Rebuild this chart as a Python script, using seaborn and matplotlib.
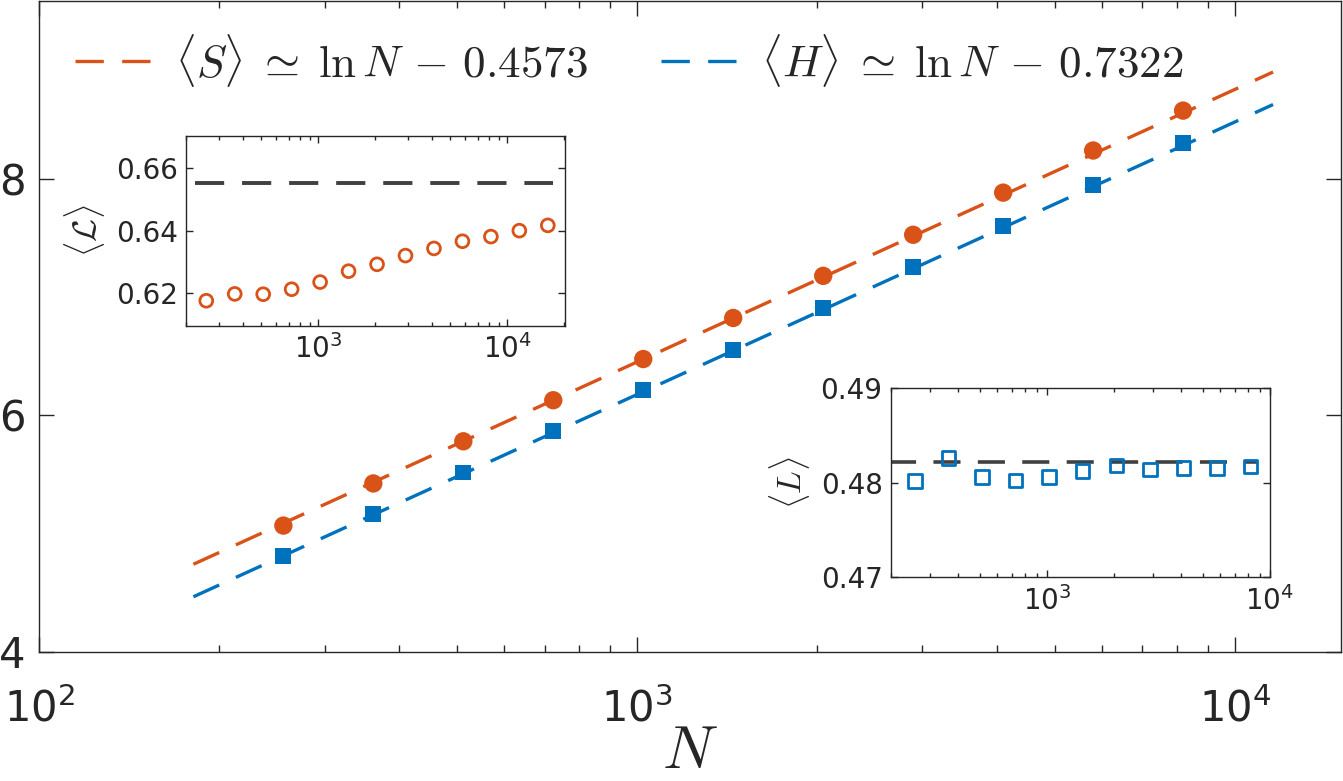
import numpy as np
import matplotlib.pyplot as plt
import seaborn as sns

# main panel: system size and the two mean values
N_main = [256, 362, 512, 724, 1024, 1448, 2048, 2896, 4096, 5793, 8192]
S_mean = [5.068, 5.424, 5.780, 6.127, 6.475, 6.822, 7.178, 7.525, 7.881, 8.237, 8.574]
H_mean = [4.814, 5.169, 5.517, 5.864, 6.212, 6.551, 6.907, 7.254, 7.602, 7.949, 8.297]
c_S = 0.4573
c_H = 0.7322

# top-left inset
N_cal = [256, 362, 512, 724, 1024, 1448, 2048, 2896, 4096, 5793, 8192, 11585, 16384]
L_cal = [0.6175, 0.6197, 0.6196, 0.6212, 0.6235, 0.6270, 0.6292, 0.6320,
         0.6343, 0.6366, 0.6381, 0.6400, 0.6417]
L_cal_limit = 0.6553

# bottom-right inset
N_L = [256, 362, 512, 724, 1024, 1448, 2048, 2896, 4096, 5793, 8192]
L_val = [0.48018, 0.48265, 0.48064, 0.48025, 0.48064, 0.48127, 0.48184,
         0.48141, 0.48155, 0.48159, 0.48173]
L_limit = 0.4822

orange = "#D95319"
blue = "#0072BD"
grey = "#404040"
ink = "#262626"

sns.set_style("ticks")
plt.rcParams["font.family"] = ["DejaVu Sans"]
plt.rcParams["mathtext.fontset"] = "cm"
plt.rcParams["axes.edgecolor"] = ink
plt.rcParams["xtick.color"] = ink
plt.rcParams["ytick.color"] = ink
plt.rcParams["text.color"] = ink

fig = plt.figure(figsize=(13.43, 7.81), dpi=100)
ax = fig.add_axes([0.0293, 0.1652, 0.9692, 0.8335])

# fit lines over the data range, half a step beyond each end
N_fit = np.geomspace(N_main[0] / np.sqrt(2), N_main[-1] * np.sqrt(2), 60)
dash = (0, (8.5, 5.5))
sns.lineplot(x=N_fit, y=np.log(N_fit) - c_S, ax=ax, color=orange, lw=2.4,
             linestyle=dash,
             label=r"$\langle S\rangle \;\simeq\; \ln N \,-\, 0.4573$")
sns.lineplot(x=N_fit, y=np.log(N_fit) - c_H, ax=ax, color=blue, lw=2.4,
             linestyle=dash,
             label=r"$\langle H\rangle \;\simeq\; \ln N \,-\, 0.7322$")
sns.scatterplot(x=N_main, y=S_mean, ax=ax, color=orange, marker="o", s=175,
                edgecolor="none", zorder=3)
sns.scatterplot(x=N_main, y=H_mean, ax=ax, color=blue, marker="s", s=130,
                edgecolor="none", zorder=3)

ax.set_xscale("log")
ax.set_xlim(100, 15050)
ax.set_ylim(4, 9.5)
ax.set_yticks([4, 6, 8])
ax.set_xlabel(r"$N$", fontsize=44, labelpad=-6)
ax.set_ylabel("")
ax.tick_params(which="both", direction="in", top=True, right=True, labelsize=30)
ax.tick_params(which="major", length=10.8, width=1.0, pad=10)
ax.tick_params(axis="x", which="major", pad=26)
ax.tick_params(which="minor", length=5.3, width=1.0)
for sp in ax.spines.values():
    sp.set_linewidth(1.0)

ax.legend(loc="center left", bbox_to_anchor=(0.0558, 0.923),
          bbox_transform=fig.transFigure, ncol=2, frameon=False, fontsize=32.5,
          handlelength=1.7, handletextpad=0.52, columnspacing=1.6,
          borderpad=0, borderaxespad=0)

# inset: calligraphic L
ax1 = fig.add_axes([0.1385, 0.583, 0.2822, 0.2433])
N_line1 = np.geomspace(N_cal[0] / 1.15, N_cal[-1] * 1.07, 20)
sns.lineplot(x=N_line1, y=np.full_like(N_line1, L_cal_limit), ax=ax1,
             color=grey, lw=2.8, linestyle=(0, (7.5, 4.6)))
sns.scatterplot(x=N_cal, y=L_cal, ax=ax1, marker="o", s=85,
                facecolor="none", edgecolor=orange, linewidth=2.0, zorder=3)
ax1.set_xscale("log")
ax1.set_xlim(200, 20200)
ax1.set_ylim(0.6095, 0.6705)
ax1.set_yticks([0.62, 0.64, 0.66])
ax1.set_ylabel(r"$\langle\mathcal{L}\rangle$", fontsize=24, labelpad=6)

# inset: L
ax2 = fig.add_axes([0.6634, 0.2608, 0.2822, 0.242])
N_line2 = np.geomspace(N_L[0] / 1.3, N_L[-1] * 1.07, 20)
sns.lineplot(x=N_line2, y=np.full_like(N_line2, L_limit), ax=ax2,
             color=grey, lw=2.6, linestyle=(0, (7.5, 4.8)))
sns.scatterplot(x=N_L, y=L_val, ax=ax2, marker="s", s=95,
                facecolor="none", edgecolor=blue, linewidth=2.0, zorder=3)
ax2.set_xscale("log")
ax2.set_xlim(200, 10000)
ax2.set_ylim(0.47, 0.49)
ax2.set_yticks([0.47, 0.48, 0.49])
ax2.set_ylabel(r"$\langle L\rangle$", fontsize=24, labelpad=6)

for a in (ax1, ax2):
    a.tick_params(which="both", direction="in", top=True, right=True, labelsize=20)
    a.tick_params(which="major", length=5, width=1.0, pad=6)
    a.tick_params(which="minor", length=3, width=1.0)
    for sp in a.spines.values():
        sp.set_linewidth(1.0)

fig.savefig("out.png", dpi=100)
